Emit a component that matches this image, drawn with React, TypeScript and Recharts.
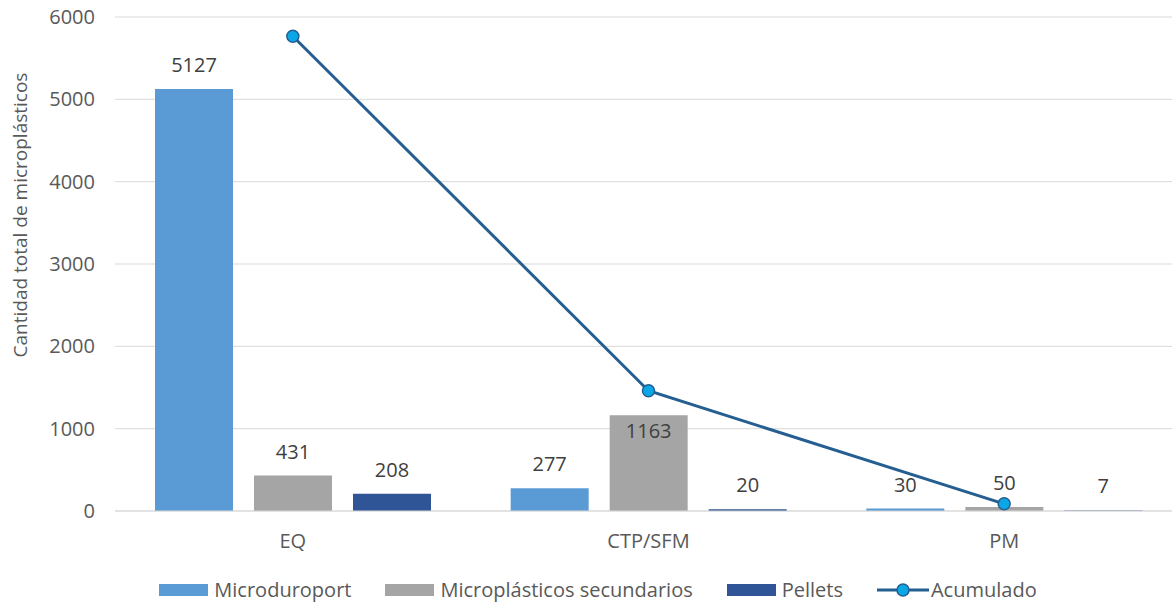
import React from 'react';
import {
  ComposedChart,
  Bar,
  Line,
  XAxis,
  YAxis,
  CartesianGrid,
  LabelList,
} from 'recharts';

const categories = ['EQ', 'CTP/SFM', 'PM'];
const microduroport = [5127, 277, 30];
const secundarios = [431, 1163, 50];
const pellets = [208, 20, 7];
const acumulado = [5766, 1460, 87];
const yTicks = [0, 1000, 2000, 3000, 4000, 5000, 6000];

const seriesNames = {
  micro: 'Microduroport',
  sec: 'Microplásticos secundarios',
  pel: 'Pellets',
  acu: 'Acumulado',
};

const COLORS = {
  micro: '#5B9BD5',
  sec: '#A5A5A5',
  pel: '#2F5597',
  line: '#255E91',
  dot: '#0AA6E6',
};

const data = categories.map((c, i) => ({
  name: c,
  micro: microduroport[i],
  sec: secundarios[i],
  pel: pellets[i],
  acu: acumulado[i],
}));

const FONT = '"Open Sans", sans-serif';

const makeLabel = (key: string) => (props: any) => {
  const { x, y, width, value, index } = props;
  const cx = Number(x) + Number(width) / 2;
  // the 1163 label sits inside the bar top (moved to avoid the line)
  const inside = key === 'sec' && index === 1;
  const baseline = inside ? Number(y) + 16 + 7 : Number(y) - 17;
  return (
    <text
      x={cx}
      y={baseline}
      textAnchor="middle"
      fill="#404040"
      fontSize={20}
      fontFamily={FONT}
    >
      {value}
    </text>
  );
};

const YLabel = (props: any) => {
  const vb = props.viewBox || {};
  const cx = 20;
  const cy = vb.y + vb.height / 2 - 49;
  return (
    <text
      x={cx}
      y={cy}
      transform={`rotate(-90, ${cx}, ${cy})`}
      textAnchor="middle"
      dominantBaseline="central"
      fill="#595959"
      fontSize={19}
      fontFamily={FONT}
    >
      Cantidad total de microplásticos
    </text>
  );
};

const legendItems = [
  { key: 'micro', type: 'rect', color: COLORS.micro },
  { key: 'sec', type: 'rect', color: COLORS.sec },
  { key: 'pel', type: 'rect', color: COLORS.pel },
  { key: 'acu', type: 'line', color: COLORS.line },
];

const LegendBox = () => (
  <div
    style={{
      position: 'absolute',
      top: 578,
      left: 0,
      width: 1196,
      display: 'flex',
      justifyContent: 'center',
      alignItems: 'center',
      gap: 34,
      fontFamily: FONT,
      fontSize: 20,
      color: '#595959',
      lineHeight: '24px',
    }}
  >
    {legendItems.map((it) => (
      <div key={it.key} style={{ display: 'flex', alignItems: 'center' }}>
        {it.type === 'rect' ? (
          <div
            style={{
              width: 49,
              height: 12,
              background: it.color,
              marginRight: 6,
            }}
          />
        ) : (
          <svg width={52} height={16} style={{ marginRight: 2 }}>
            <line x1={0} y1={8} x2={52} y2={8} stroke={COLORS.line} strokeWidth={3} />
            <circle cx={26} cy={8} r={6} fill={COLORS.dot} stroke={COLORS.line} strokeWidth={1.5} />
          </svg>
        )}
        <span>{(seriesNames as any)[it.key]}</span>
      </div>
    ))}
  </div>
);

export default function App() {
  return (
    <div
      style={{
        position: 'absolute',
        left: 0,
        top: 0,
        width: 1172,
        height: 603,
        overflow: 'hidden',
        background: '#fff',
      }}
    >
      <ComposedChart
        width={1190}
        height={603}
        data={data}
        margin={{ top: 17, right: 8, bottom: 52, left: 0 }}
        barSize={78}
        barGap={21}
      >
        <CartesianGrid vertical={false} stroke="#D9D9D9" strokeWidth={1} />
        <XAxis
          dataKey="name"
          height={40}
          axisLine={{ stroke: '#D9D9D9', strokeWidth: 1 }}
          tickLine={false}
          tickMargin={17}
          tick={{ fill: '#595959', fontSize: 20, fontFamily: FONT }}
        />
        <YAxis
          width={115}
          domain={[0, 6000]}
          ticks={yTicks}
          axisLine={false}
          tickLine={false}
          tickMargin={14}
          tick={{ fill: '#595959', fontSize: 20, fontFamily: FONT }}
          label={<YLabel />}
        />
        <Bar dataKey="micro" name={seriesNames.micro} fill={COLORS.micro} isAnimationActive={false}>
          <LabelList dataKey="micro" content={makeLabel('micro')} />
        </Bar>
        <Bar dataKey="sec" name={seriesNames.sec} fill={COLORS.sec} isAnimationActive={false}>
          <LabelList dataKey="sec" content={makeLabel('sec')} />
        </Bar>
        <Bar dataKey="pel" name={seriesNames.pel} fill={COLORS.pel} isAnimationActive={false}>
          <LabelList dataKey="pel" content={makeLabel('pel')} />
        </Bar>
        <Line
          type="linear"
          dataKey="acu"
          name={seriesNames.acu}
          stroke={COLORS.line}
          strokeWidth={3}
          dot={{ r: 6, fill: COLORS.dot, stroke: COLORS.line, strokeWidth: 1.5 }}
          activeDot={false}
          isAnimationActive={false}
        />
      </ComposedChart>
      <LegendBox />
    </div>
  );
}
